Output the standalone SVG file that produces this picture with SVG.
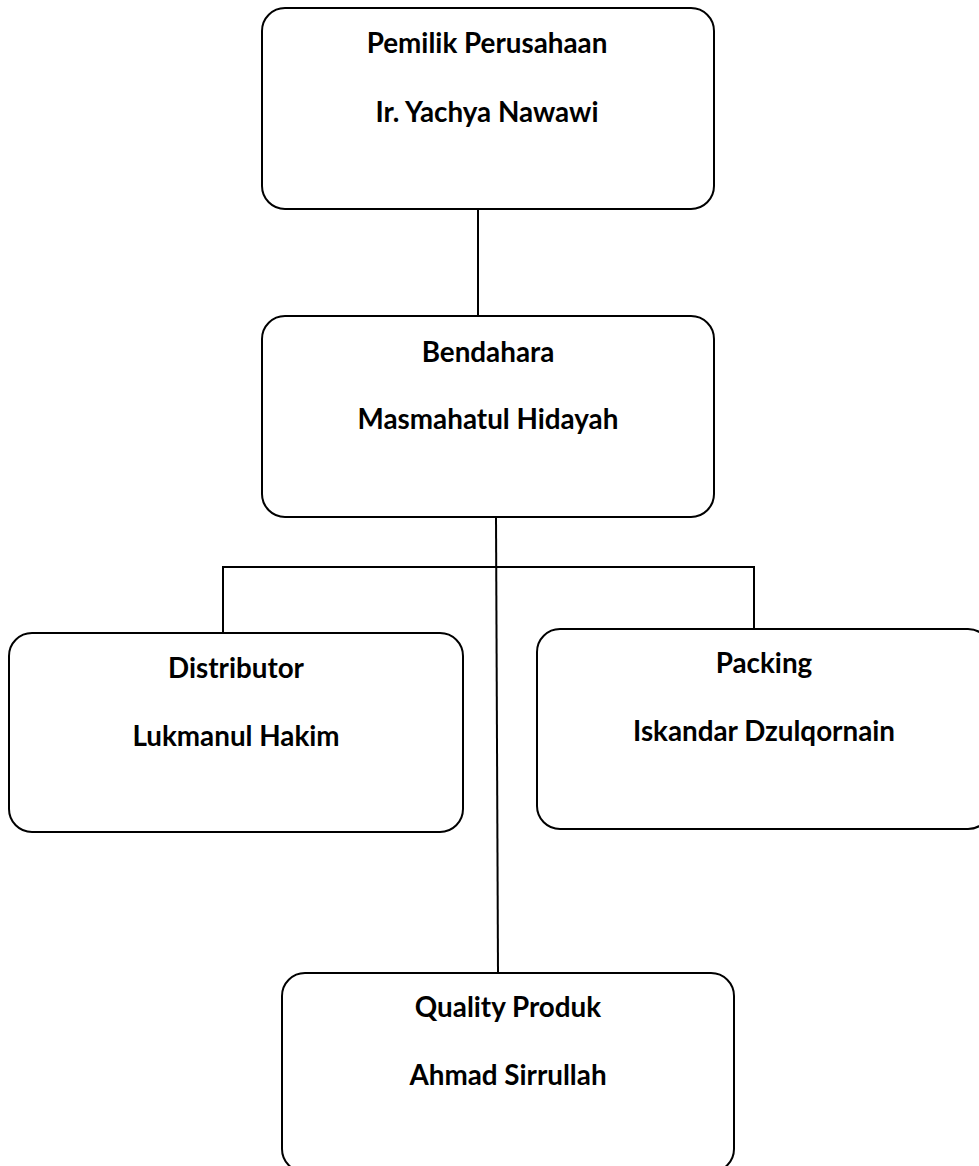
<svg xmlns="http://www.w3.org/2000/svg" width="979" height="1166" viewBox="0 0 979 1166">
<style>
.box{fill:#fff;stroke:#000;stroke-width:2}
.t{font-family:Lato,"Liberation Sans",sans-serif;font-weight:bold;font-size:27.8px;fill:#000;text-anchor:middle}
.c{stroke:#000;stroke-width:2;fill:none}
</style>
<rect width="979" height="1166" fill="#fff"/>
<g id="connectors">
<line class="c" x1="478" y1="209" x2="478" y2="316"/>
<line class="c" x1="496" y1="517" x2="498" y2="973"/>
<line class="c" x1="222" y1="567" x2="755" y2="567"/>
<line class="c" x1="223" y1="567" x2="223" y2="633"/>
<line class="c" x1="754" y1="567" x2="754" y2="629"/>
</g>
<g id="pemilik">
<rect class="box" x="262" y="8" width="452" height="201" rx="23"/>
<text class="t" x="487" y="53">Pemilik Perusahaan</text>
<text class="t" x="487" y="122">Ir. Yachya Nawawi</text>
</g>
<g id="bendahara">
<rect class="box" x="262" y="316" width="452" height="201" rx="23"/>
<text class="t" x="488" y="362">Bendahara</text>
<text class="t" x="488" y="429">Masmahatul Hidayah</text>
</g>
<g id="distributor">
<rect class="box" x="9" y="633" width="454" height="199" rx="23"/>
<text class="t" x="236" y="678">Distributor</text>
<text class="t" x="236" y="746">Lukmanul Hakim</text>
</g>
<g id="packing">
<rect class="box" x="537" y="629" width="454" height="200" rx="23"/>
<text class="t" x="764" y="673">Packing</text>
<text class="t" x="764" y="741">Iskandar Dzulqornain</text>
</g>
<g id="quality">
<rect class="box" x="282" y="973" width="452" height="199" rx="23"/>
<text class="t" x="508" y="1017">Quality Produk</text>
<text class="t" x="508" y="1085">Ahmad Sirrullah</text>
</g>
</svg>
